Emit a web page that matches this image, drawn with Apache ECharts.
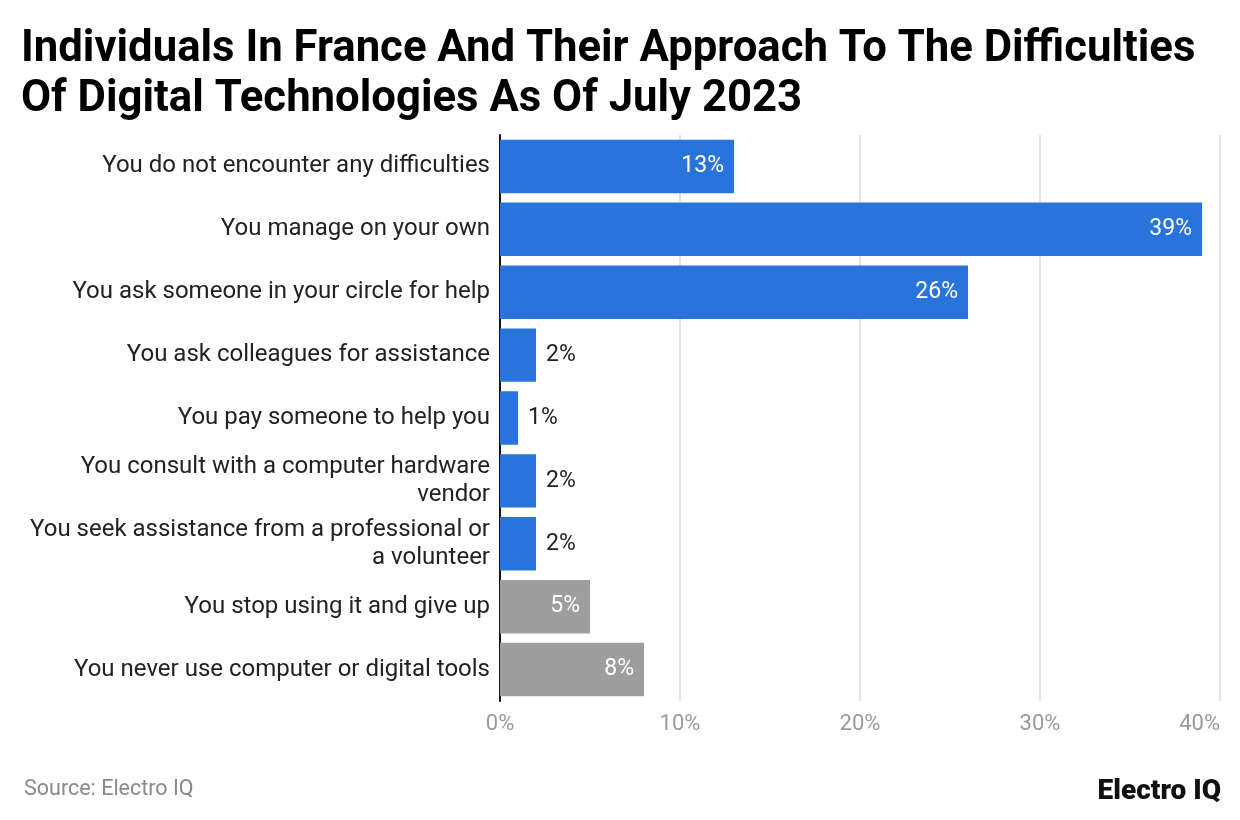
<!DOCTYPE html>
<html>
<head>
<meta charset="utf-8">
<script src="https://cdn.jsdelivr.net/npm/echarts@6/dist/echarts.min.js"></script>
<style>html,body{margin:0;padding:0;background:#fff;}#c{width:1240px;height:820px;}</style>
</head>
<body>
<div id="c"></div>
<script>
const categories = [
  "You do not encounter any difficulties",
  "You manage on your own",
  "You ask someone in your circle for help",
  "You ask colleagues for assistance",
  "You pay someone to help you",
  "You consult with a computer hardware\nvendor",
  "You seek assistance from a professional or\na volunteer",
  "You stop using it and give up",
  "You never use computer or digital tools"
];
const values = [13, 39, 26, 2, 1, 2, 2, 5, 8];
const barColors = ["#2874DB","#2874DB","#2874DB","#2874DB","#2874DB","#2874DB","#2874DB","#9E9E9E","#9E9E9E"];
const xTicks = [0, 10, 20, 30, 40];

const chart = echarts.init(document.getElementById('c'), null, {renderer: 'canvas'});
const font = 'Roboto, "Noto Sans", sans-serif';
chart.setOption({
  backgroundColor: '#ffffff',
  animation: false,
  title: [{
    text: 'Individuals In France And Their Approach To The Difficulties\nOf Digital Technologies As Of July 2023',
    left: 16, top: 20,
    textStyle: {fontFamily: font, fontWeight: 'bold', fontSize: 43.7, color: '#000', lineHeight: 50}
  }, {
    text: 'Source: Electro IQ',
    left: 19, top: 774,
    textStyle: {fontFamily: font, fontWeight: 'normal', fontSize: 21.5, color: '#8a8a8a'}
  }, {
    text: 'Electro IQ',
    right: 14, top: 773,
    textStyle: {fontFamily: font, fontWeight: 900, fontSize: 28, color: '#111'}
  }],
  grid: {left: 500, right: 20, top: 135, bottom: 119, containLabel: false},
  xAxis: {
    type: 'value', min: xTicks[0], max: xTicks[xTicks.length - 1], interval: 10,
    axisLine: {show: false}, axisTick: {show: false},
    splitLine: {lineStyle: {color: '#e3e3e3', width: 2}},
    axisLabel: {formatter: '{value}%', color: '#9a9a9a', fontSize: 22, fontFamily: font, margin: 12, alignMaxLabel: 'right'}
  },
  yAxis: {
    type: 'category', data: categories, inverse: true,
    axisLine: {show: true, lineStyle: {color: '#111', width: 2}},
    axisTick: {show: false},
    axisLabel: {color: '#222', fontSize: 24, fontFamily: font, margin: 10, align: 'right', lineHeight: 28}
  },
  series: [{
    type: 'bar',
    barCategoryGap: '15%',
    data: values.map((v, i) => ({
      value: v,
      itemStyle: {color: barColors[i]},
      label: v >= 5
        ? {show: true, position: 'insideRight', distance: 10, color: '#fff'}
        : {show: true, position: 'right', distance: 10, color: '#222'}
    })),
    label: {show: true, formatter: '{c}%', fontSize: 23, fontFamily: font}
  }]
});
</script>
</body>
</html>
